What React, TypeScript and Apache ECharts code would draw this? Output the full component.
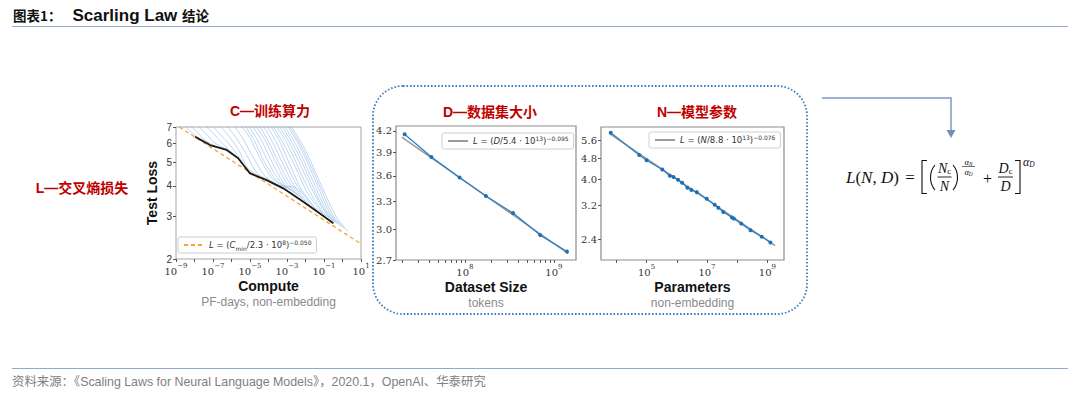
import React, { useEffect, useRef } from 'react';
import * as echarts from 'echarts';

// ---------- Data ----------
// C panel: compute (PF-days) vs test loss
const computeTicks = [1e-9, 1e-7, 1e-5, 1e-3, 1e-1, 1e1];
const computeMinorTicks = [1e-9, 1e-8, 1e-7, 1e-6, 1e-5, 1e-4, 1e-3, 1e-2, 1e-1, 1, 1e1];
const computeLossTicks = [2, 3, 4, 5, 6, 7];
const computeEnvelope: [number, number][] = [
  [1.07e-8, 6.38], [6.9e-8, 5.9], [5.5e-7, 5.63], [2.3e-6, 5.2], [4.4e-6, 4.88],
  [1.0e-5, 4.51], [7.9e-5, 4.23], [6.3e-4, 3.91], [7.6e-3, 3.44], [6.0e-2, 3.08], [0.32, 2.81],
];
const computeFit: [number, number][] = [[1.5e-9, 7.0], [10, 2.31]];
const learningCurves: [number, number][][] = [
  [[2.0e-9, 7.3], [5.0e-9, 6.8], [1.3e-8, 6.4], [6.3e-8, 6.0]],
  [[4.0e-9, 7.3], [1.3e-8, 6.7], [4.0e-8, 6.15], [1.6e-7, 5.8]],
  [[1.0e-8, 7.3], [4.0e-8, 6.6], [1.3e-7, 6.0], [6.3e-7, 5.65]],
  [[2.5e-8, 7.3], [1.0e-7, 6.6], [4.0e-7, 5.9], [1.6e-6, 5.35]],
  [[6.3e-8, 7.3], [2.5e-7, 6.5], [1.0e-6, 5.8], [4.0e-6, 5.0]],
  [[1.6e-7, 7.3], [6.3e-7, 6.5], [2.5e-6, 5.6], [7.9e-6, 4.7], [3.2e-5, 4.4]],
  [[4.0e-7, 7.3], [1.6e-6, 6.4], [6.3e-6, 5.4], [2.5e-5, 4.5], [1.0e-4, 4.25]],
  [[1.0e-6, 7.3], [4.0e-6, 6.3], [1.6e-5, 5.2], [6.3e-5, 4.4], [3.2e-4, 4.05]],
  [[2.5e-6, 7.3], [1.0e-5, 6.3], [4.0e-5, 5.1], [1.6e-4, 4.3], [1.0e-3, 3.9]],
  [[4.0e-6, 7.3], [1.6e-5, 6.2], [6.3e-5, 5.0], [2.5e-4, 4.25], [1.6e-3, 3.85]],
  [[6.3e-6, 7.3], [2.5e-5, 6.2], [1.0e-4, 5.0], [4.0e-4, 4.2], [2.5e-3, 3.75]],
  [[1.0e-5, 7.3], [4.0e-5, 6.2], [1.6e-4, 5.0], [6.3e-4, 4.15], [4.0e-3, 3.65]],
  [[1.6e-5, 7.3], [6.3e-5, 6.2], [2.5e-4, 5.0], [1.0e-3, 4.1], [6.3e-3, 3.55]],
  [[2.5e-5, 7.3], [1.0e-4, 6.1], [4.0e-4, 4.9], [1.6e-3, 4.05], [1.0e-2, 3.45]],
  [[4.0e-5, 7.3], [1.6e-4, 6.1], [6.3e-4, 4.9], [2.5e-3, 4.0], [1.6e-2, 3.35]],
  [[6.3e-5, 7.3], [2.5e-4, 6.1], [1.0e-3, 4.85], [4.0e-3, 3.95], [2.5e-2, 3.3]],
  [[1.0e-4, 7.3], [4.0e-4, 6.1], [1.6e-3, 4.8], [6.3e-3, 3.85], [4.0e-2, 3.2]],
  [[1.4e-4, 7.3], [6.3e-4, 6.0], [3.2e-3, 4.7], [1.26e-2, 3.75], [8.0e-2, 3.1]],
  [[2.0e-4, 7.3], [1.0e-3, 6.0], [5.0e-3, 4.6], [2.5e-2, 3.6], [0.126, 3.0]],
  [[2.8e-4, 7.3], [1.6e-3, 5.9], [1.0e-2, 4.4], [5.0e-2, 3.45], [0.2, 2.95]],
  [[4.0e-4, 7.3], [2.5e-3, 5.8], [1.6e-2, 4.3], [8.0e-2, 3.3], [0.32, 2.85]],
  [[5.6e-4, 7.3], [3.5e-3, 5.8], [2.5e-2, 4.2], [0.126, 3.2], [0.5, 2.8]],
  [[8.0e-4, 7.3], [5.0e-3, 5.8], [4.0e-2, 4.1], [0.2, 3.1], [0.8, 2.72]],
  [[1.0e-3, 7.3], [7.0e-3, 5.7], [6.3e-2, 3.95], [0.32, 3.0], [1.26, 2.68]],
  [[1.26e-3, 7.3], [1.0e-2, 5.6], [0.1, 3.8], [0.5, 2.95], [2.0, 2.6]],
  [[1.5e-4, 4.1], [6.0e-4, 4.0], [2.5e-3, 3.95], [6.0e-3, 3.75]],
  [[2.0e-2, 3.3], [6.0e-2, 3.15], [0.15, 3.0], [0.4, 2.85]],
];

// D panel: dataset size (tokens) vs loss
const datasetTicksX = [1e8, 1e9];
const datasetMinorX = [2e7, 3e7, 4e7, 5e7, 6e7, 7e7, 8e7, 9e7, 1e8, 2e8, 3e8, 4e8, 5e8, 6e8, 7e8, 8e8, 9e8, 1e9];
const datasetTicksY = [2.7, 3.0, 3.3, 3.6, 3.9, 4.2];
const datasetTokens = [2.1e7, 4.2e7, 8.7e7, 1.72e8, 3.47e8, 7.0e8, 1.4e9];
const datasetLoss = [4.15, 3.84, 3.58, 3.36, 3.17, 2.94, 2.78];
const datasetFit: [number, number][] = [[1.95e7, 4.11], [1.45e9, 2.76]];

// N panel: parameters vs loss
const paramTicksX = [1e5, 1e7, 1e9];
const paramMinorX = [1e4, 1e5, 1e6, 1e7, 1e8, 1e9];
const paramTicksY = [2.4, 3.2, 4.0, 4.8, 5.6];
const paramCount = [6.5e3, 5.7e4, 1.0e5, 3.3e5, 5.9e5, 7.8e5, 1.1e6, 1.5e6, 2.25e6, 3.05e6, 4.6e6,
  9.8e6, 1.8e7, 2.37e7, 3.47e7, 6.7e7, 7.8e7, 1.36e8, 2.77e8, 6.5e8, 1.26e9];
const paramLoss = [5.98, 4.94, 4.72, 4.36, 4.13, 4.09, 3.99, 3.89, 3.73, 3.66, 3.59,
  3.39, 3.22, 3.14, 3.03, 2.89, 2.86, 2.74, 2.59, 2.45, 2.33];
const paramFit: [number, number][] = [[6.5e3, 5.89], [1.8e9, 2.27]];

// ---------- helpers ----------
const lg = (v: number) => Math.log10(v);
const toLog = (pts: [number, number][]) => pts.map(([x, y]) => [lg(x), lg(y)]);
const SANS = 'Liberation Sans, Arial, sans-serif';
const SERIF = 'DejaVu Serif, serif';
const CJK = 'Liberation Sans, Noto Sans CJK SC, sans-serif';
const RED = '#c00000';
const BLUE = '#2f7fc1';

const powLabel = (v: number) => {
  const e = Math.round(v);
  return `{b|10}{s|${e < 0 ? '\u2212' + -e : e}}`;
};
const powRich = {
  b: { fontFamily: SERIF, fontSize: 10, color: '#333', lineHeight: 14, verticalAlign: 'bottom' },
  s: { fontFamily: SERIF, fontSize: 7, color: '#333', lineHeight: 14, verticalAlign: 'top' },
};

function xAxisLog(gridIndex: number, min: number, max: number, labels: number[], ticks: number[], name: string) {
  return {
    type: 'value', gridIndex, min: lg(min), max: lg(max),
    axisLine: { show: false, onZero: false }, splitLine: { show: false },
    axisTick: { show: true, customValues: ticks.map(lg), length: 3, lineStyle: { color: '#555' } },
    axisLabel: { customValues: labels.map(lg), formatter: powLabel, margin: 3, rich: powRich },
    name, nameLocation: 'middle', nameGap: 19,
    nameTextStyle: {
      rich: {
        a: { fontFamily: SANS, fontSize: 14, fontWeight: 'bold', color: '#111', lineHeight: 16 },
        b: { fontFamily: SANS, fontSize: 12, color: '#8a8a8a', lineHeight: 15 },
      },
    },
  };
}

function yAxisLog(gridIndex: number, min: number, max: number, labels: number[], fmt: (v: number) => string, font: string, extra: any = {}) {
  return {
    type: 'value', gridIndex, min: lg(min), max: lg(max),
    axisLine: { show: false, onZero: false }, splitLine: { show: false },
    axisTick: { show: true, customValues: labels.map(lg), length: 3, lineStyle: { color: '#555' } },
    axisLabel: {
      customValues: labels.map(lg), formatter: (v: number) => fmt(Math.pow(10, v)), margin: 4,
      fontFamily: font, fontSize: 10, color: '#333',
    },
    ...extra,
  };
}

const legendBase = {
  orient: 'horizontal', itemWidth: 20, itemHeight: 8, itemGap: 4, padding: [2, 5],
  backgroundColor: '#fff', borderColor: '#cfcfcf', borderWidth: 1, borderRadius: 2,
  selectedMode: false,
  itemStyle: { opacity: 0 },
  textStyle: {
    fontFamily: 'DejaVu Sans, sans-serif', fontSize: 8.5, color: '#333', lineHeight: 12,
    rich: {
      i: { fontStyle: 'italic', fontFamily: 'DejaVu Sans, sans-serif', fontSize: 8.5, lineHeight: 12, color: '#333' },
      sub: { fontFamily: 'DejaVu Sans, sans-serif', fontSize: 6, lineHeight: 12, verticalAlign: 'bottom', color: '#333' },
      sup: { fontFamily: 'DejaVu Sans, sans-serif', fontSize: 6, lineHeight: 12, verticalAlign: 'top', color: '#333' },
    },
  },
};

function buildOption() {
  const FX = 846;
  const FY = 177;
  const fText = (x: number, y: number, text: string, size: number, align = 'center') => ({
    type: 'text', x, y,
    style: {
      text, fill: '#111', fontFamily: 'Liberation Serif, serif', fontSize: size,
      textAlign: align, textVerticalAlign: 'middle', align, verticalAlign: 'middle',
      rich: {
        i: { fontStyle: 'italic', fontFamily: 'Liberation Serif, serif', fontSize: size, fill: '#111' },
        s: { fontStyle: 'normal', fontFamily: 'Liberation Serif, serif', fontSize: size * 0.62, verticalAlign: 'bottom', fill: '#111' },
        sd: { fontStyle: 'italic', fontFamily: 'Liberation Serif, serif', fontSize: size * 0.62, verticalAlign: 'bottom', fill: '#111' },
      },
    },
  });
  const line = (x1: number, y1: number, x2: number, y2: number, w = 1) => ({
    type: 'line', shape: { x1, y1, x2, y2 }, style: { stroke: '#111', lineWidth: w },
  });
  const centered = { textAlign: 'center', align: 'center', textVerticalAlign: 'middle', verticalAlign: 'middle' };

  const graphic: any[] = [
    // header
    {
      type: 'text', x: 13, y: 15,
      style: {
        text: '{c|图表1：}{l|Scarling Law }{c|结论}', fill: '#111', textVerticalAlign: 'middle', verticalAlign: 'middle',
        rich: {
          c: { fontFamily: 'Noto Sans CJK SC, sans-serif', fontSize: 13.5, fontWeight: 'bold', fill: '#111' },
          l: { fontFamily: SANS, fontSize: 17, fontWeight: 'bold', fill: '#111', padding: [0, 0, 0, 11] },
        },
      },
    },
    { type: 'line', shape: { x1: 12, y1: 26.5, x2: 1068, y2: 26.5 }, style: { stroke: '#8eaad2', lineWidth: 1 } },
    // footer
    { type: 'line', shape: { x1: 12, y1: 368.5, x2: 1068, y2: 368.5 }, style: { stroke: '#8eaad2', lineWidth: 1 } },
    {
      type: 'text', x: 12, y: 382,
      style: {
        text: '资料来源：《Scaling Laws for Neural Language Models》，2020.1，OpenAI、华泰研究',
        fontFamily: CJK, fontSize: 12.4, fill: '#808080', textVerticalAlign: 'middle', verticalAlign: 'middle',
      },
    },
    // panel titles
    { type: 'text', x: 270, y: 111, style: { text: 'C—训练算力', fontFamily: CJK, fontSize: 14, fontWeight: 'bold', fill: RED, ...centered } },
    { type: 'text', x: 490, y: 112, style: { text: 'D—数据集大小', fontFamily: CJK, fontSize: 14, fontWeight: 'bold', fill: RED, ...centered } },
    { type: 'text', x: 697, y: 112, style: { text: 'N—模型参数', fontFamily: CJK, fontSize: 14, fontWeight: 'bold', fill: RED, ...centered } },
    { type: 'text', x: 82, y: 188, style: { text: 'L—交叉熵损失', fontFamily: CJK, fontSize: 14, fontWeight: 'bold', fill: RED, ...centered } },
    // dotted rounded box
    { type: 'rect', shape: { x: 373, y: 86, width: 434, height: 228, r: 30 }, style: { fill: 'none', stroke: '#3a80c4', lineWidth: 1.8, lineDash: [1.6, 1.9] } },
    // arrow
    { type: 'polyline', shape: { points: [[822, 98], [951, 98], [951, 131]] }, style: { fill: 'none', stroke: '#7b9cc6', lineWidth: 1.5 } },
    { type: 'polygon', shape: { points: [[946.5, 130], [955.5, 130], [951, 138]] }, style: { fill: '#6f90bd' } },
    // formula
    fText(FX, FY, '{i|L}({i|N}, {i|D})', 17, 'left'),
    fText(910, FY, '=', 17),
    { type: 'polyline', shape: { points: [[927, FY - 16.5], [922, FY - 16.5], [922, FY + 16.5], [927, FY + 16.5]] }, style: { fill: 'none', stroke: '#111', lineWidth: 1.1 } },
    { type: 'bezierCurve', shape: { x1: 935, y1: FY - 12, cpx1: 929, cpy1: FY - 5, cpx2: 929, cpy2: FY + 6, x2: 935, y2: FY + 13 }, style: { fill: 'none', stroke: '#111', lineWidth: 1.1 } },
    fText(944.5, FY - 8.5, '{i|N}{s|c}', 14),
    line(937.5, FY, 951.5, FY, 0.9),
    fText(944.5, FY + 9, '{i|N}', 14),
    { type: 'bezierCurve', shape: { x1: 953, y1: FY - 12, cpx1: 959, cpy1: FY - 5, cpx2: 959, cpy2: FY + 6, x2: 953, y2: FY + 13 }, style: { fill: 'none', stroke: '#111', lineWidth: 1.1 } },
    fText(968.5, FY - 15, '{i|α}{sd|N}', 8.5),
    line(962, FY - 10.5, 975, FY - 10.5, 0.6),
    fText(968.5, FY - 5.5, '{i|α}{sd|D}', 8.5),
    fText(987.5, FY + 1, '+', 16),
    fText(1005.5, FY - 8.5, '{i|D}{s|c}', 14),
    line(998, FY, 1013, FY, 0.9),
    fText(1005.5, FY + 9, '{i|D}', 14),
    { type: 'polyline', shape: { points: [[1015, FY - 16.5], [1020, FY - 16.5], [1020, FY + 16.5], [1015, FY + 16.5]] }, style: { fill: 'none', stroke: '#111', lineWidth: 1.1 } },
    fText(1023, FY - 15, '{i|α}{sd|D}', 12, 'left'),
  ];

  const curveSeries = learningCurves.map((c, i) => ({
    type: 'line', name: 'curve' + i, xAxisIndex: 0, yAxisIndex: 0, data: toLog(c),
    symbol: 'none', smooth: 0.3, silent: true, clip: true,
    lineStyle: { color: 'rgba(110,165,218,0.45)', width: 1 },
  }));

  return {
    animation: false,
    backgroundColor: '#fff',
    graphic,
    grid: [
      { left: 176, top: 127, width: 185, height: 132, show: true, borderColor: '#a5a5a5', borderWidth: 1, outerBoundsMode: 'none' },
      { left: 396, top: 126, width: 180, height: 134, show: true, borderColor: '#8c8c8c', borderWidth: 1.2, outerBoundsMode: 'none' },
      { left: 601, top: 127, width: 183, height: 133, show: true, borderColor: '#8c8c8c', borderWidth: 1.2, outerBoundsMode: 'none' },
    ],
    xAxis: [
      xAxisLog(0, 1e-9, 1e1, computeTicks, computeMinorTicks, '{a|Compute}\n{b|PF-days, non-embedding}'),
      xAxisLog(1, 1.68e7, 1.77e9, datasetTicksX, datasetMinorX, '{a|Dataset Size}\n{b|tokens}'),
      xAxisLog(2, 3.1e3, 3.55e9, paramTicksX, paramMinorX, '{a|Parameters}\n{b|non-embedding}'),
    ],
    yAxis: [
      yAxisLog(0, 2, 7, computeLossTicks, (v) => String(Math.round(v)), SANS, {
        name: 'Test Loss', nameLocation: 'middle', nameRotate: 90, nameGap: 17,
        nameTextStyle: { fontFamily: SANS, fontSize: 14, fontWeight: 'bold', color: '#111' },
      }),
      yAxisLog(1, 2.7, 4.27, datasetTicksY, (v) => v.toFixed(1), SERIF),
      yAxisLog(2, 2.005, 6.28, paramTicksY, (v) => v.toFixed(1), SERIF),
    ],
    legend: [
      {
        ...legendBase, data: ['cFit'], left: 178, top: 237,
        formatter: () => '{i|L} = ({i|C}{sub|min}/2.3 · 10{sup|8}){sup|\u22120.050}',
      },
      {
        ...legendBase, data: ['dFit'], left: 442, top: 133,
        formatter: () => '{i|L} = ({i|D}/5.4 · 10{sup|13}){sup|\u22120.095}',
      },
      {
        ...legendBase, data: ['nFit'], left: 649, top: 132,
        formatter: () => '{i|L} = ({i|N}/8.8 · 10{sup|13}){sup|\u22120.076}',
      },
    ],
    series: [
      ...curveSeries,
      {
        type: 'line', name: 'cFit', xAxisIndex: 0, yAxisIndex: 0, data: toLog(computeFit), symbol: 'none',
        lineStyle: { color: '#f5a623', width: 1.3, type: [4, 3] }, itemStyle: { color: '#f5a623' },
      },
      {
        type: 'line', name: 'cEnvelope', xAxisIndex: 0, yAxisIndex: 0, data: toLog(computeEnvelope), symbol: 'none',
        lineStyle: { color: '#1a1a1a', width: 1.8 },
      },
      {
        type: 'line', name: 'dFit', xAxisIndex: 1, yAxisIndex: 1, data: toLog(datasetFit), symbol: 'none',
        lineStyle: { color: '#9a9a9a', width: 1.5 }, itemStyle: { color: '#9a9a9a' },
      },
      {
        type: 'line', name: 'dData', xAxisIndex: 1, yAxisIndex: 1,
        data: datasetTokens.map((t, i) => [lg(t), lg(datasetLoss[i])]),
        symbol: 'circle', symbolSize: 4, showSymbol: true,
        lineStyle: { color: BLUE, width: 1.3 }, itemStyle: { color: '#1f6fb4' },
      },
      {
        type: 'line', name: 'nFit', xAxisIndex: 2, yAxisIndex: 2, data: toLog(paramFit), symbol: 'none',
        lineStyle: { color: '#9a9a9a', width: 1.5 }, itemStyle: { color: '#9a9a9a' },
      },
      {
        type: 'line', name: 'nData', xAxisIndex: 2, yAxisIndex: 2,
        data: paramCount.map((p, i) => [lg(p), lg(paramLoss[i])]),
        symbol: 'circle', symbolSize: 4, showSymbol: true,
        lineStyle: { color: BLUE, width: 1.3 }, itemStyle: { color: '#1f6fb4' },
      },
    ],
  };
}

export default function App() {
  const ref = useRef<HTMLDivElement>(null);
  useEffect(() => {
    if (!ref.current) return;
    const chart = echarts.init(ref.current, undefined, { renderer: 'svg' });
    chart.setOption(buildOption() as any);
    return () => chart.dispose();
  }, []);
  return (
    <div
      ref={ref}
      style={{ position: 'fixed', left: 0, top: 0, width: 1080, height: 394, background: '#fff' }}
    />
  );
}
